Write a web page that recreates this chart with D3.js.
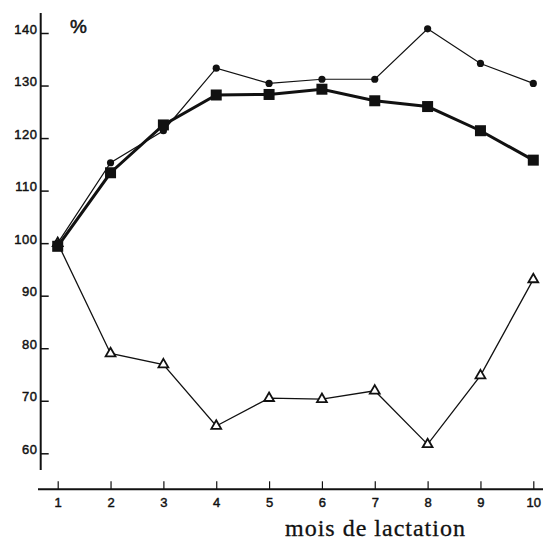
<!DOCTYPE html>
<html>
<head>
<meta charset="utf-8">
<script src="https://cdn.jsdelivr.net/npm/d3@7"></script>
<style>
  html, body { margin: 0; padding: 0; background: #fff; }
  svg { display: block; }
</style>
</head>
<body>
<svg id="chart" width="543" height="542"></svg>
<script>
// Months of lactation
const months = [1, 2, 3, 4, 5, 6, 7, 8, 9, 10];
// Series values, % of month-1 level
const circleSeries   = [100, 115.3, 121.4, 133.3, 130.4, 131.2, 131.2, 140.8, 134.2, 130.4];
const squareSeries   = [99.4, 113.4, 122.5, 128.2, 128.3, 129.3, 127.1, 126.0, 121.4, 115.8];
const triangleSeries = [100, 79.0, 76.9, 65.2, 70.5, 70.3, 71.9, 61.7, 74.8, 93.1];
// Axis tick values
const yTicks = [60, 70, 80, 90, 100, 110, 120, 130, 140];
const xTicks = months;

const svg = d3.select("#chart");
const ink = "#111";
const sans = "'Liberation Sans', Arial, sans-serif";

const x = d3.scaleLinear().domain([1, 10]).range([57.7, 533.3]);
const y = d3.scaleLinear().domain([60, 140]).range([453.3, 33]);

// Y axis
const yAxisG = svg.append("g").attr("transform", "translate(40.7,0)")
  .call(d3.axisLeft(y).tickValues(yTicks).tickSizeInner(-8).tickSizeOuter(0).tickPadding(3));
yAxisG.select(".domain").remove();
yAxisG.selectAll(".tick line").attr("stroke", ink).attr("stroke-width", 1.5);
yAxisG.selectAll(".tick text")
  .attr("dy", "0")
  .attr("fill", ink)
  .attr("stroke", ink).attr("stroke-width", 0.45)
  .style("font-family", sans)
  .style("font-size", "13px")
  .style("letter-spacing", "0.6px");
svg.append("line")
  .attr("x1", 40.7).attr("x2", 40.7).attr("y1", 13).attr("y2", 470)
  .attr("stroke", ink).attr("stroke-width", 2);

// X axis
const xAxisG = svg.append("g").attr("transform", "translate(0,489.3)")
  .call(d3.axisBottom(x).tickValues(xTicks).tickSizeInner(-8).tickSizeOuter(0).tickPadding(8.5));
xAxisG.select(".domain").remove();
xAxisG.selectAll(".tick line").attr("stroke", ink).attr("stroke-width", 1.2);
xAxisG.selectAll(".tick text")
  .attr("fill", ink)
  .attr("stroke", ink).attr("stroke-width", 0.45)
  .style("font-family", sans)
  .style("font-size", "13px");
svg.append("line")
  .attr("x1", 38).attr("x2", 543).attr("y1", 489.3).attr("y2", 489.3)
  .attr("stroke", ink).attr("stroke-width", 2);

// Unit label and axis title
svg.append("text")
  .attr("x", 70).attr("y", 33.3)
  .attr("fill", ink)
  .attr("stroke", ink).attr("stroke-width", 0.5)
  .style("font-family", sans)
  .style("font-size", "19px")
  .text("%");

svg.append("text")
  .attr("x", 285).attr("y", 536)
  .attr("fill", ink)
  .attr("stroke", ink).attr("stroke-width", 0.3)
  .style("font-family", "'Liberation Serif', 'Times New Roman', serif")
  .style("font-size", "24px")
  .style("letter-spacing", "1px")
  .text("mois de lactation");

const line = d3.line().x(d => x(d[0])).y(d => y(d[1]));
const pairs = vals => months.map((m, i) => [m, vals[i]]);

// Triangle series: thin line, open triangles
const tri = pairs(triangleSeries);
svg.append("path").attr("d", line(tri))
  .attr("fill", "none").attr("stroke", ink).attr("stroke-width", 1.3);
svg.append("g").selectAll("path").data(tri).join("path")
  .attr("transform", d => `translate(${x(d[0])},${y(d[1])})`)
  .attr("d", d3.symbol(d3.symbolTriangle, 42))
  .attr("fill", "#fff").attr("stroke", ink).attr("stroke-width", 1.8);

// Circle series: thin line, small filled dots
const circ = pairs(circleSeries);
svg.append("path").attr("d", line(circ))
  .attr("fill", "none").attr("stroke", ink).attr("stroke-width", 1.2);
svg.append("g").selectAll("circle").data(circ).join("circle")
  .attr("cx", d => x(d[0])).attr("cy", d => y(d[1])).attr("r", 3.6)
  .attr("fill", ink);

// Square series: thick line, filled squares
const sq = pairs(squareSeries);
svg.append("path").attr("d", line(sq))
  .attr("fill", "none").attr("stroke", ink).attr("stroke-width", 3);
svg.append("g").selectAll("rect").data(sq).join("rect")
  .attr("x", d => x(d[0]) - 5.5).attr("y", d => y(d[1]) - 5.5)
  .attr("width", 11).attr("height", 11)
  .attr("fill", ink);
</script>
</body>
</html>
